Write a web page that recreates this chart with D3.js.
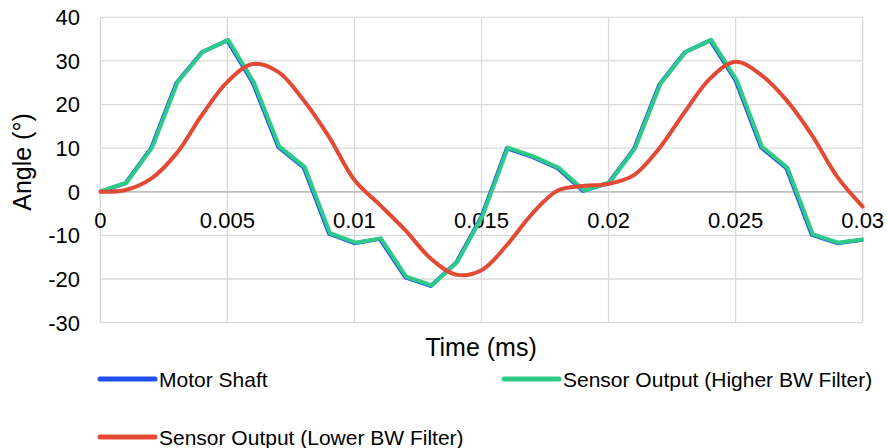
<!DOCTYPE html>
<meta charset="utf-8">
<script src="https://d3js.org/d3.v7.min.js"></script>
<style>
  body { margin: 0; background: #fff; }
  text { font-family: "Liberation Sans", Arial, sans-serif; fill: #000; }
</style>
<div id="chart"></div>
<script>
// time samples (ms)
var time = [0, 0.001, 0.002, 0.003, 0.004, 0.005, 0.006, 0.007, 0.008, 0.009, 0.010,
            0.011, 0.012, 0.013, 0.014, 0.015, 0.016, 0.017, 0.018, 0.019, 0.020,
            0.021, 0.022, 0.023, 0.024, 0.025, 0.026, 0.027, 0.028, 0.029, 0.030];

var motorShaft = [0, 2, 10, 25, 32, 34.7, 25, 10.3, 5.6, -9.6, -11.8,
                  -10.8, -19.6, -21.6, -16.3, -5.7, 10, 8, 5.4, 0.2, 2,
                  9.8, 24.6, 32, 34.7, 25.5, 10.2, 5.4, -9.9, -11.8, -11];

var sensorHigh = [0, 2, 10, 25, 32, 34.7, 25, 10.3, 5.6, -9.6, -11.8,
                  -10.8, -19.6, -21.6, -16.3, -5.7, 10, 8, 5.4, 0.2, 2,
                  9.8, 24.6, 32, 34.7, 25.5, 10.2, 5.4, -9.9, -11.8, -11];

var sensorLow = [0, 0.4, 3, 8.8, 17.6, 25.2, 29.3, 27.5, 21, 12.6, 2.7,
                 -3, -8.8, -15.3, -19, -18, -12.2, -5, 0.3, 1.3, 1.8,
                 3.8, 10, 18.3, 26, 29.8, 26.8, 21, 13, 3.4, -3.4];

var xTicks = [0, 0.005, 0.01, 0.015, 0.02, 0.025, 0.03];
var yTicks = [-30, -20, -10, 0, 10, 20, 30, 40];

var seriesNames = ["Motor Shaft", "Sensor Output (Higher BW Filter)", "Sensor Output (Lower BW Filter)"];
var colors = ["#1f4fef", "#2ecb88", "#e24a36"];

var width = 888, height = 448;

var svg = d3.select("#chart").append("svg")
  .attr("width", width)
  .attr("height", height);

var x = d3.scaleLinear().domain([0, 0.03]).range([100.3, 862.7]);
var y = d3.scaleLinear().domain([-30, 40]).range([322.6, 17.3]);

// gridlines
svg.selectAll(".hgrid")
  .data(yTicks)
  .enter().append("line")
    .attr("x1", x(0)).attr("x2", x(0.03))
    .attr("y1", d => y(d)).attr("y2", d => y(d))
    .style("stroke", d => d === 0 ? "#bfbfbf" : "#d9d9d9")
    .style("stroke-width", d => d === 0 ? 1.5 : 1.3);

svg.selectAll(".vgrid")
  .data(xTicks)
  .enter().append("line")
    .attr("x1", d => x(d)).attr("x2", d => x(d))
    .attr("y1", y(40)).attr("y2", y(-30))
    .style("stroke", "#d9d9d9")
    .style("stroke-width", 1.3);

// redraw zero line on top of vertical grid
svg.append("line")
  .attr("x1", x(0)).attr("x2", x(0.03))
  .attr("y1", y(0)).attr("y2", y(0))
  .style("stroke", "#bfbfbf")
  .style("stroke-width", 1.5);

// tick labels
svg.selectAll(".ylab")
  .data(yTicks)
  .enter().append("text")
    .attr("x", 80)
    .attr("y", d => y(d))
    .attr("dy", "0.36em")
    .attr("text-anchor", "end")
    .attr("font-size", "22px")
    .text(d => d);

svg.selectAll(".xlab")
  .data(xTicks)
  .enter().append("text")
    .attr("x", d => x(d))
    .attr("y", 228)
    .attr("text-anchor", "middle")
    .attr("font-size", "22px")
    .text(d => d);

// axis titles
svg.append("text")
  .attr("transform", "translate(31,162) rotate(-90)")
  .attr("text-anchor", "middle")
  .attr("font-size", "25px")
  .text("Angle (°)");

svg.append("text")
  .attr("x", 481)
  .attr("y", 356)
  .attr("text-anchor", "middle")
  .attr("font-size", "25px")
  .text("Time (ms)");

// lines
var lineLinear = d3.line()
  .x((d, i) => x(time[i]))
  .y(d => y(d));

var lineSmooth = d3.line()
  .x((d, i) => x(time[i]))
  .y(d => y(d))
  .curve(d3.curveCatmullRom.alpha(0.5));

svg.append("path")
  .datum(motorShaft)
  .attr("d", lineLinear)
  .style("fill", "none")
  .style("stroke", colors[0])
  .style("stroke-width", 4)
  .style("stroke-linejoin", "round");

svg.append("path")
  .datum(sensorHigh)
  .attr("d", lineLinear)
  .attr("transform", "translate(1,-0.5)")
  .style("fill", "none")
  .style("stroke", colors[1])
  .style("stroke-width", 4)
  .style("stroke-linejoin", "round");

svg.append("path")
  .datum(sensorLow)
  .attr("d", lineSmooth)
  .style("fill", "none")
  .style("stroke", colors[2])
  .style("stroke-width", 4)
  .style("stroke-linecap", "round");

// legend
var legendPos = [[100, 379], [504, 379], [100, 437]];

var legend = svg.selectAll(".legend")
  .data(seriesNames)
  .enter().append("g")
    .attr("transform", (d, i) => "translate(" + legendPos[i][0] + "," + legendPos[i][1] + ")");

legend.append("line")
  .attr("x1", 0).attr("x2", 55)
  .attr("y1", 0).attr("y2", 0)
  .style("stroke", (d, i) => colors[i])
  .style("stroke-width", 5)
  .style("stroke-linecap", "round");

legend.append("text")
  .attr("x", 59)
  .attr("y", 8)
  .attr("font-size", "21px")
  .text(d => d);
</script>
